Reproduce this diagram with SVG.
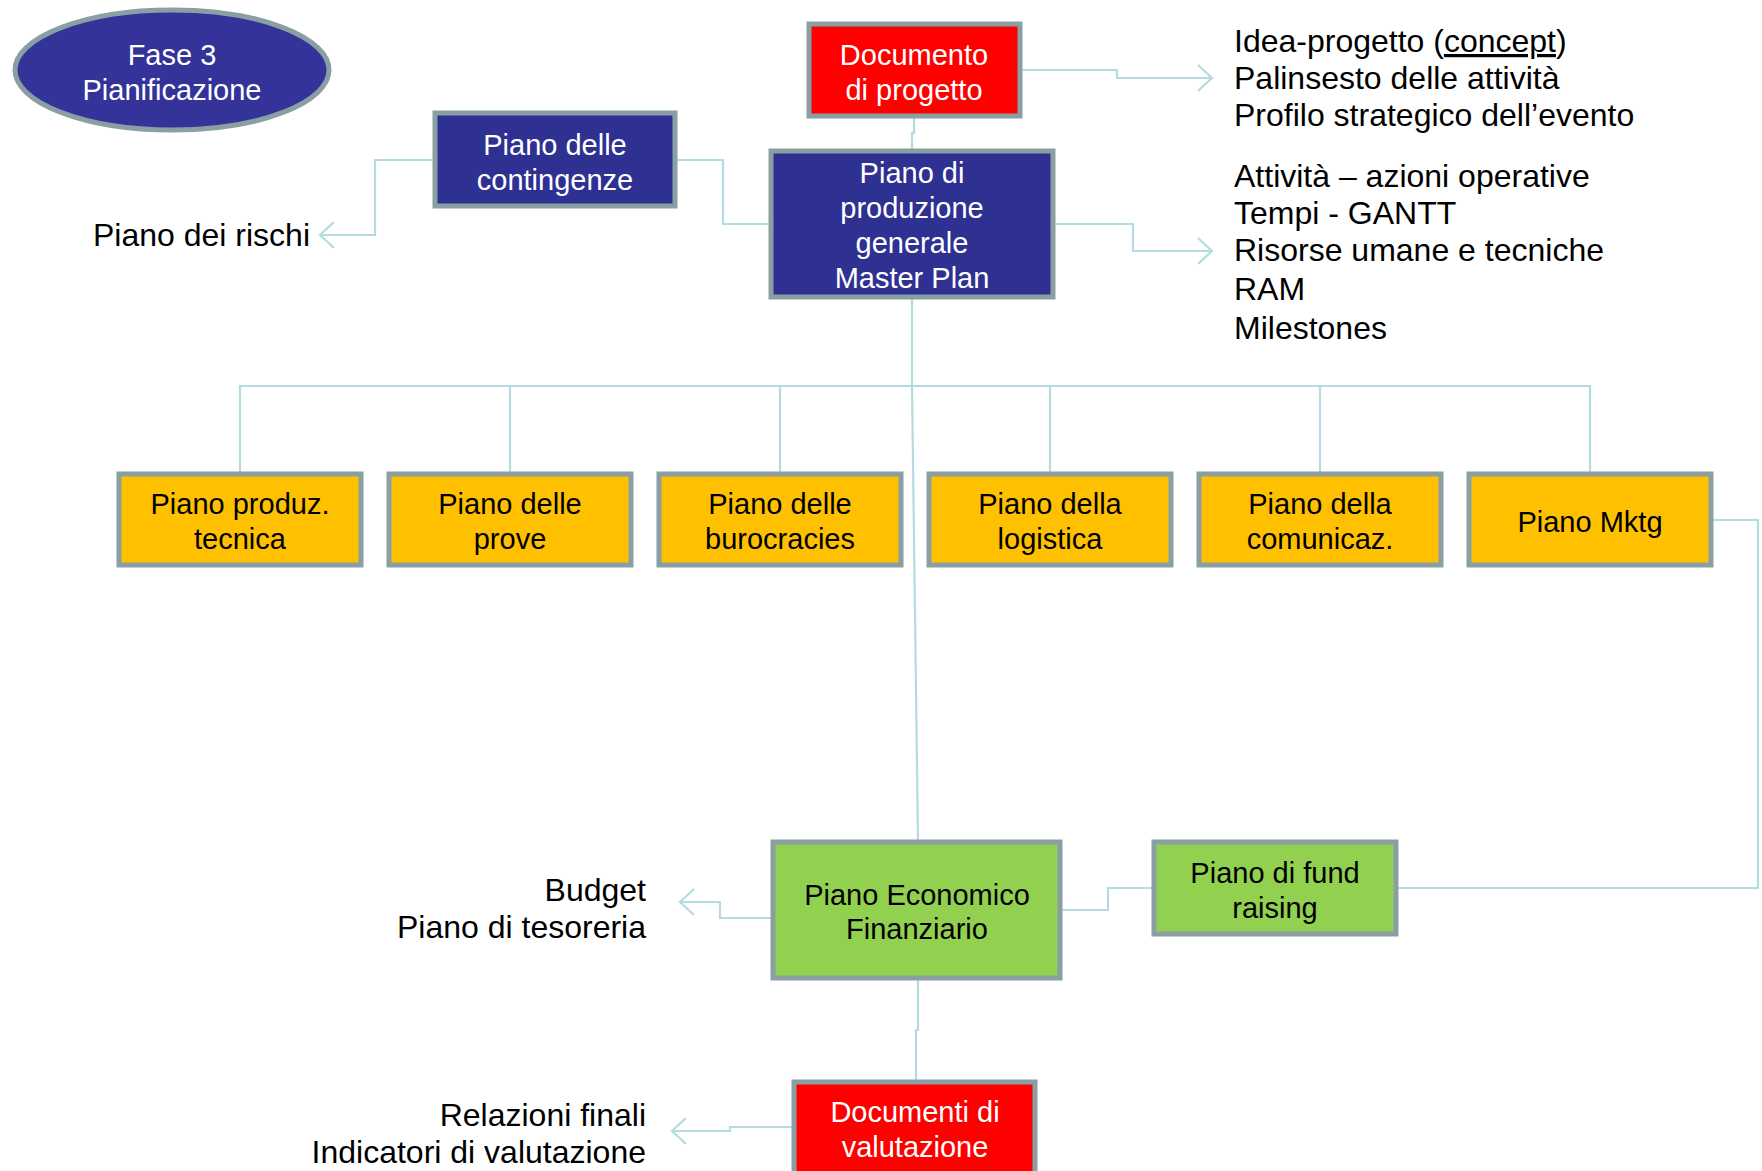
<svg xmlns="http://www.w3.org/2000/svg" width="1762" height="1171" viewBox="0 0 1762 1171">
  <style>
    .box { stroke: #8A9FA3; stroke-width: 5; }
    .navy { fill: #2E3192; }
    .red { fill: #FF0000; }
    .yellow { fill: #FFC000; }
    .green { fill: #92D050; }
    .lbl { font-family: "Liberation Sans", Arial, sans-serif; font-size: 29px; text-anchor: middle; }
    .w { fill: #FFFFFF; }
    .k { fill: #000000; }
    .note { font-family: "Liberation Sans", Arial, sans-serif; font-size: 32px; fill: #000000; }
    .conn { fill: none; stroke: #B4DCE0; stroke-width: 2.2; }
  </style>
  <defs>
    <marker id="open" markerUnits="userSpaceOnUse" markerWidth="30" markerHeight="30" viewBox="-16 -15 20 30" refX="0" refY="0" orient="auto">
      <path d="M-14,-13 L0,0 L-14,13" fill="none" stroke="#B4DCE0" stroke-width="2.2"/>
    </marker>
  </defs>

  <rect width="1762" height="1171" fill="#FFFFFF"/>

  <!-- connectors -->
  <g id="connectors">
    <polyline class="conn" points="1020,70 1117,70 1117,78 1212,78" marker-end="url(#open)"/>
    <polyline class="conn" points="1053,224 1133,224 1133,251 1212,251" marker-end="url(#open)"/>
    <polyline class="conn" points="435,160 375,160 375,235 320,235" marker-end="url(#open)"/>
    <polyline class="conn" points="675,160 723,160 723,224 771,224"/>
    <polyline class="conn" points="914,116 914,133 912,133 912,151"/>
    <line class="conn" x1="912" y1="297" x2="912" y2="386"/>
    <polyline class="conn" points="240,474 240,386 1590,386 1590,474"/>
    <line class="conn" x1="510" y1="386" x2="510" y2="474"/>
    <line class="conn" x1="780" y1="386" x2="780" y2="474"/>
    <line class="conn" x1="1050" y1="386" x2="1050" y2="474"/>
    <line class="conn" x1="1320" y1="386" x2="1320" y2="474"/>
    <line class="conn" x1="912" y1="386" x2="918" y2="842"/>
    <polyline class="conn" points="1711,520 1758,520 1758,888 1397,888"/>
    <polyline class="conn" points="1154,888 1108,888 1108,910 1060,910"/>
    <polyline class="conn" points="773,918 720,918 720,902 680,902" marker-end="url(#open)"/>
    <polyline class="conn" points="918,978 918,1030 916,1030 916,1082"/>
    <polyline class="conn" points="794,1127 730,1127 730,1131 672,1131" marker-end="url(#open)"/>
  </g>

  <!-- phase badge -->
  <g id="fase3">
    <ellipse class="box" cx="172" cy="70" rx="157" ry="60" fill="#333399"/>
    <text class="lbl w" x="172" y="65">Fase 3</text>
    <text class="lbl w" x="172" y="100">Pianificazione</text>
  </g>

  <g id="documento-progetto">
    <rect class="box red" x="809" y="24" width="211" height="92"/>
    <text class="lbl w" x="914" y="65">Documento</text>
    <text class="lbl w" x="914" y="100">di progetto</text>
  </g>

  <g id="piano-contingenze">
    <rect class="box navy" x="435" y="113" width="240" height="93"/>
    <text class="lbl w" x="555" y="155">Piano delle</text>
    <text class="lbl w" x="555" y="190">contingenze</text>
  </g>

  <g id="master-plan">
    <rect class="box navy" x="771" y="151" width="282" height="146"/>
    <text class="lbl w" x="912" y="183">Piano di</text>
    <text class="lbl w" x="912" y="218">produzione</text>
    <text class="lbl w" x="912" y="253">generale</text>
    <text class="lbl w" x="912" y="288">Master Plan</text>
  </g>

  <!-- notes -->
  <g id="note-documento">
    <text class="note" x="1234" y="52">Idea-progetto (<tspan text-decoration="underline">concept</tspan>)</text>
    <text class="note" x="1234" y="89">Palinsesto delle attività</text>
    <text class="note" x="1234" y="126">Profilo strategico dell’evento</text>
  </g>
  <g id="note-master">
    <text class="note" x="1234" y="187">Attività – azioni operative</text>
    <text class="note" x="1234" y="224">Tempi - GANTT</text>
    <text class="note" x="1234" y="261">Risorse umane e tecniche</text>
    <text class="note" x="1234" y="300">RAM</text>
    <text class="note" x="1234" y="339">Milestones</text>
  </g>
  <g id="note-rischi">
    <text class="note" x="310" y="246" text-anchor="end">Piano dei rischi</text>
  </g>

  <!-- sub-plans -->
  <g id="piano-produz-tecnica">
    <rect class="box yellow" x="119" y="474" width="242" height="91"/>
    <text class="lbl k" x="240" y="514">Piano produz.</text>
    <text class="lbl k" x="240" y="549">tecnica</text>
  </g>
  <g id="piano-prove">
    <rect class="box yellow" x="389" y="474" width="242" height="91"/>
    <text class="lbl k" x="510" y="514">Piano delle</text>
    <text class="lbl k" x="510" y="549">prove</text>
  </g>
  <g id="piano-burocracies">
    <rect class="box yellow" x="659" y="474" width="242" height="91"/>
    <text class="lbl k" x="780" y="514">Piano delle</text>
    <text class="lbl k" x="780" y="549">burocracies</text>
  </g>
  <g id="piano-logistica">
    <rect class="box yellow" x="929" y="474" width="242" height="91"/>
    <text class="lbl k" x="1050" y="514">Piano della</text>
    <text class="lbl k" x="1050" y="549">logistica</text>
  </g>
  <g id="piano-comunicaz">
    <rect class="box yellow" x="1199" y="474" width="242" height="91"/>
    <text class="lbl k" x="1320" y="514">Piano della</text>
    <text class="lbl k" x="1320" y="549">comunicaz.</text>
  </g>
  <g id="piano-mktg">
    <rect class="box yellow" x="1469" y="474" width="242" height="91"/>
    <text class="lbl k" x="1590" y="532">Piano Mktg</text>
  </g>

  <g id="piano-economico">
    <rect class="box green" x="773" y="842" width="287" height="136"/>
    <text class="lbl k" x="917" y="905">Piano Economico</text>
    <text class="lbl k" x="917" y="939">Finanziario</text>
  </g>
  <g id="piano-fund-raising">
    <rect class="box green" x="1154" y="842" width="242" height="92"/>
    <text class="lbl k" x="1275" y="883">Piano di fund</text>
    <text class="lbl k" x="1275" y="918">raising</text>
  </g>
  <g id="note-budget">
    <text class="note" x="646" y="901" text-anchor="end">Budget</text>
    <text class="note" x="646" y="938" text-anchor="end">Piano di tesoreria</text>
  </g>

  <g id="documenti-valutazione">
    <rect class="box red" x="794" y="1082" width="241" height="100"/>
    <text class="lbl w" x="915" y="1122">Documenti di</text>
    <text class="lbl w" x="915" y="1157">valutazione</text>
  </g>
  <g id="note-valutazione">
    <text class="note" x="646" y="1126" text-anchor="end">Relazioni finali</text>
    <text class="note" x="646" y="1163" text-anchor="end">Indicatori di valutazione</text>
  </g>
</svg>
